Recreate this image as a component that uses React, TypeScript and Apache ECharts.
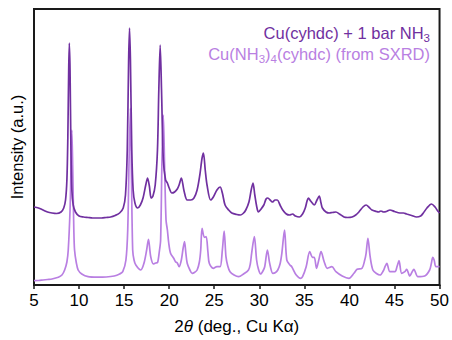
import React, { useEffect, useRef } from "react";
import * as echarts from "echarts";

// 2θ positions (deg) and intensities (a.u.)
const measuredTwoTheta = [
  5.0, 5.5, 6.0, 6.5, 7.0, 7.5, 8.0, 8.3, 8.5, 8.65, 8.75, 8.85, 8.92, 9.0, 9.1, 9.2, 9.35, 9.6,
  10.0, 10.5, 11.0, 11.5, 12.0, 12.5, 13.0, 13.5, 14.0, 14.5, 14.9, 15.15, 15.35, 15.5, 15.6, 15.7,
  15.85, 16.0, 16.2, 16.5, 16.8, 17.1, 17.4, 17.6, 17.8, 18.0, 18.2, 18.45, 18.7, 18.85, 19.0, 19.15,
  19.35, 19.6, 19.8, 20.0, 20.3, 20.6, 20.9, 21.1, 21.35, 21.65, 22.0, 22.4, 22.75, 23.1, 23.4, 23.65,
  23.8, 24.0, 24.2, 24.6, 24.9, 25.3, 25.65, 25.9, 26.2, 26.6, 26.95, 27.5, 27.9, 28.2, 28.5, 28.85,
  29.1, 29.3, 29.5, 29.7, 29.9, 30.2, 30.5, 30.75, 30.95, 31.2, 31.45, 31.75, 32.0, 32.3, 32.6, 33.0,
  33.35, 33.7, 34.0, 34.45, 34.8, 35.1, 35.3, 35.45, 35.7, 36.1, 36.4, 36.65, 36.85, 37.0, 37.4, 37.75,
  38.1, 38.5, 38.9, 39.4, 39.8, 40.3, 40.7, 41.05, 41.5, 41.85, 42.2, 42.5, 43.0, 43.2, 43.5, 43.8,
  44.1, 44.5, 45.0, 45.6, 46.0, 46.35, 46.9, 47.45, 47.9, 48.2, 48.6, 49.1, 49.5, 49.8, 50.0,
];
const measuredIntensity = [
  78, 77, 75, 73, 72, 71.5, 73, 77, 85, 105, 145, 215, 242, 215, 135, 95, 80, 73,
  69, 68, 67.5, 67, 67, 67, 67.5, 68, 69.5, 72, 77, 90, 135, 225, 257, 225,
  135, 95, 82, 77, 80, 87, 100, 107, 99, 87, 89, 100, 135, 195, 240, 195,
  125, 105, 102, 97, 92, 93, 96, 100, 107, 94, 85, 85, 87, 95, 110, 127,
  132, 115, 100, 85, 88, 95, 98, 92, 80, 75, 72, 70.5, 70, 71.5, 75, 83,
  95, 102, 90, 79, 73, 76, 80, 86, 87, 85, 83, 85, 85, 80, 75, 71,
  70, 71, 69, 68, 71, 77, 84, 87, 84, 80, 85, 89, 82, 77, 73, 72,
  72.5, 73, 71, 68, 67.5, 68, 70, 73, 78, 80, 77.5, 75, 73.5, 73, 74, 73,
  73.5, 75, 73.5, 72, 72, 71, 69.5, 68, 69, 72, 77, 81, 78, 74, 72,
];

const simulatedTwoTheta = [
  5.0, 5.5, 6.0, 6.5, 7.0, 7.7, 8.1, 8.4, 8.65, 8.8, 9.0, 9.1, 9.2, 9.3, 9.42, 9.5, 9.7, 9.9,
  10.3, 11.0, 12.0, 13.0, 13.9, 14.5, 14.85, 15.2, 15.4, 15.55, 15.7, 15.82, 15.95, 16.1, 16.3, 16.85,
  17.2, 17.5, 17.7, 17.95, 18.25, 18.5, 18.7, 18.9, 19.05, 19.2, 19.35, 19.5, 19.65, 19.8, 19.95, 20.15,
  20.5, 20.7, 20.9, 21.1, 21.35, 21.55, 21.7, 21.85, 22.0, 22.3, 22.55, 22.8, 23.1, 23.35, 23.5, 23.65,
  23.9, 24.1, 24.3, 24.45, 24.9, 25.3, 25.65, 25.9, 26.1, 26.3, 26.5, 26.75, 27.2, 27.7, 28.25, 28.8,
  29.0, 29.15, 29.45, 29.7, 29.9, 30.15, 30.4, 30.6, 30.9, 31.15, 31.5, 31.8, 32.05, 32.3, 32.5, 32.8,
  33.05, 33.4, 33.6, 34.1, 34.6, 34.8, 35.2, 35.6, 35.9, 36.1, 36.35, 36.6, 36.85, 37.2, 37.55, 38.05,
  38.5, 39.2, 39.95, 40.5, 40.85, 41.4, 41.7, 41.85, 42.05, 42.3, 42.6, 43.0, 43.4, 43.75, 43.95, 44.15,
  44.5, 45.05, 45.3, 45.5, 45.8, 46.15, 46.35, 46.7, 46.95, 47.15, 47.6, 48.35, 48.9, 49.1, 49.25, 49.4,
  49.6, 50.0,
];
const simulatedIntensity = [
  4.3, 4.5, 5, 5.5, 6, 7.7, 10, 15, 23, 35, 75, 115, 155, 115, 55, 35, 22, 15,
  11, 8.3, 7.8, 8, 9, 11, 13.3, 25, 55, 125, 177, 105, 35, 25, 20, 15,
  21.7, 35, 45.7, 28.3, 21, 22, 22.3, 33, 45, 125, 170, 115, 65, 55, 42, 31.7,
  26.7, 23.3, 22, 18.3, 25, 37, 43.3, 32, 21.7, 15, 11.7, 12.5, 15, 23, 35, 56.7,
  47.7, 48.3, 33, 21.7, 16.7, 18.3, 18.3, 35, 54, 28.3, 19, 13.3, 10, 8.3, 11, 15,
  21, 31.7, 48.3, 25, 16, 11, 14, 18.3, 35, 21.7, 11.7, 12.5, 15, 21, 31.7, 55,
  25, 20, 18.3, 10, 6.7, 8.3, 18.3, 33.3, 27.7, 27.7, 16.7, 25, 33.3, 23.3, 16.7, 18.3,
  13.3, 9, 6.7, 11.7, 15.7, 16.7, 25, 31.7, 46.7, 28.3, 15, 11.5, 10, 14, 18.3, 21.7,
  13.3, 13.3, 19, 24.3, 11.7, 13.3, 15.7, 9, 13, 15.7, 8.3, 9, 15, 22, 27.7, 25,
  18.3, 18.3,
];

const xTicks = [5, 10, 15, 20, 25, 30, 35, 40, 45, 50];
const seriesNames = ["Cu(cyhdc) + 1 bar NH3", "Cu(NH3)4(cyhdc) (from SXRD)"];

const DARK = "#7030a0";
const LIGHT = "#b97fe2";
const FONT = "'Liberation Sans', Arial, Helvetica, sans-serif";

export default function App() {
  const ref = useRef<HTMLDivElement>(null);

  useEffect(() => {
    if (!ref.current) return;
    const chart = echarts.init(ref.current, undefined, { renderer: "svg" });

    const pair = (xs: number[], ys: number[]) => xs.map((x, i) => [x, ys[i]]);
    const sub = { fontSize: 11.5, padding: [9, 0, 0, 0], fontFamily: FONT };

    chart.setOption({
      animation: false,
      backgroundColor: "#ffffff",
      grid: {
        left: 30,
        right: 11,
        top: 9,
        bottom: 55,
        show: true,
        borderColor: "#1a1a1a",
        borderWidth: 2,
        backgroundColor: "transparent",
      },
      xAxis: {
        type: "value",
        min: xTicks[0],
        max: xTicks[xTicks.length - 1],
        interval: 5,
        name: "2{i|θ} (deg., Cu Kα)",
        nameLocation: "middle",
        nameGap: 33,
        nameTextStyle: {
          fontSize: 17,
          color: "#000",
          fontFamily: FONT,
          rich: { i: { fontStyle: "italic", fontSize: 17, fontFamily: FONT, color: "#000" } },
        },
        axisLine: { show: true, lineStyle: { color: "#1a1a1a", width: 2 } },
        axisTick: { show: true, inside: false, length: 4, lineStyle: { color: "#1a1a1a", width: 1.5 } },
        axisLabel: { fontSize: 17, color: "#000", fontFamily: FONT, margin: 7 },
        splitLine: { show: false },
      },
      yAxis: {
        type: "value",
        min: 0,
        max: 276,
        name: "Intensity (a.u.)",
        nameLocation: "middle",
        nameGap: 9,
        nameTextStyle: { fontSize: 16.5, color: "#000", fontFamily: FONT },
        axisLine: { show: true, lineStyle: { color: "#1a1a1a", width: 2 } },
        axisTick: { show: false },
        axisLabel: { show: false },
        splitLine: { show: false },
      },
      graphic: [
        {
          type: "text",
          x: 430,
          y: 33,
          style: {
            text: "Cu(cyhdc) + 1 bar NH{s|3}",
            align: "right",
            verticalAlign: "middle",
            fill: DARK,
            fontSize: 16.5,
            fontFamily: FONT,
            rich: { s: { ...sub, fill: DARK } },
          },
        },
        {
          type: "text",
          x: 430,
          y: 54,
          style: {
            text: "Cu(NH{s|3}){s|4}(cyhdc) (from SXRD)",
            align: "right",
            verticalAlign: "middle",
            fill: LIGHT,
            fontSize: 16.5,
            fontFamily: FONT,
            rich: { s: { ...sub, fill: LIGHT } },
          },
        },
      ],
      series: [
        {
          name: seriesNames[1],
          type: "line",
          data: pair(simulatedTwoTheta, simulatedIntensity),
          showSymbol: false,
          symbol: "none",
          smooth: 0.3,
          lineStyle: { color: LIGHT, width: 1.7 },
          z: 2,
        },
        {
          name: seriesNames[0],
          type: "line",
          data: pair(measuredTwoTheta, measuredIntensity),
          showSymbol: false,
          symbol: "none",
          smooth: 0.3,
          lineStyle: { color: DARK, width: 1.7 },
          z: 3,
        },
      ],
    });

    return () => chart.dispose();
  }, []);

  return (
    <div
      ref={ref}
      style={{ position: "fixed", left: 0, top: 0, width: 452, height: 340, background: "#fff" }}
    />
  );
}
